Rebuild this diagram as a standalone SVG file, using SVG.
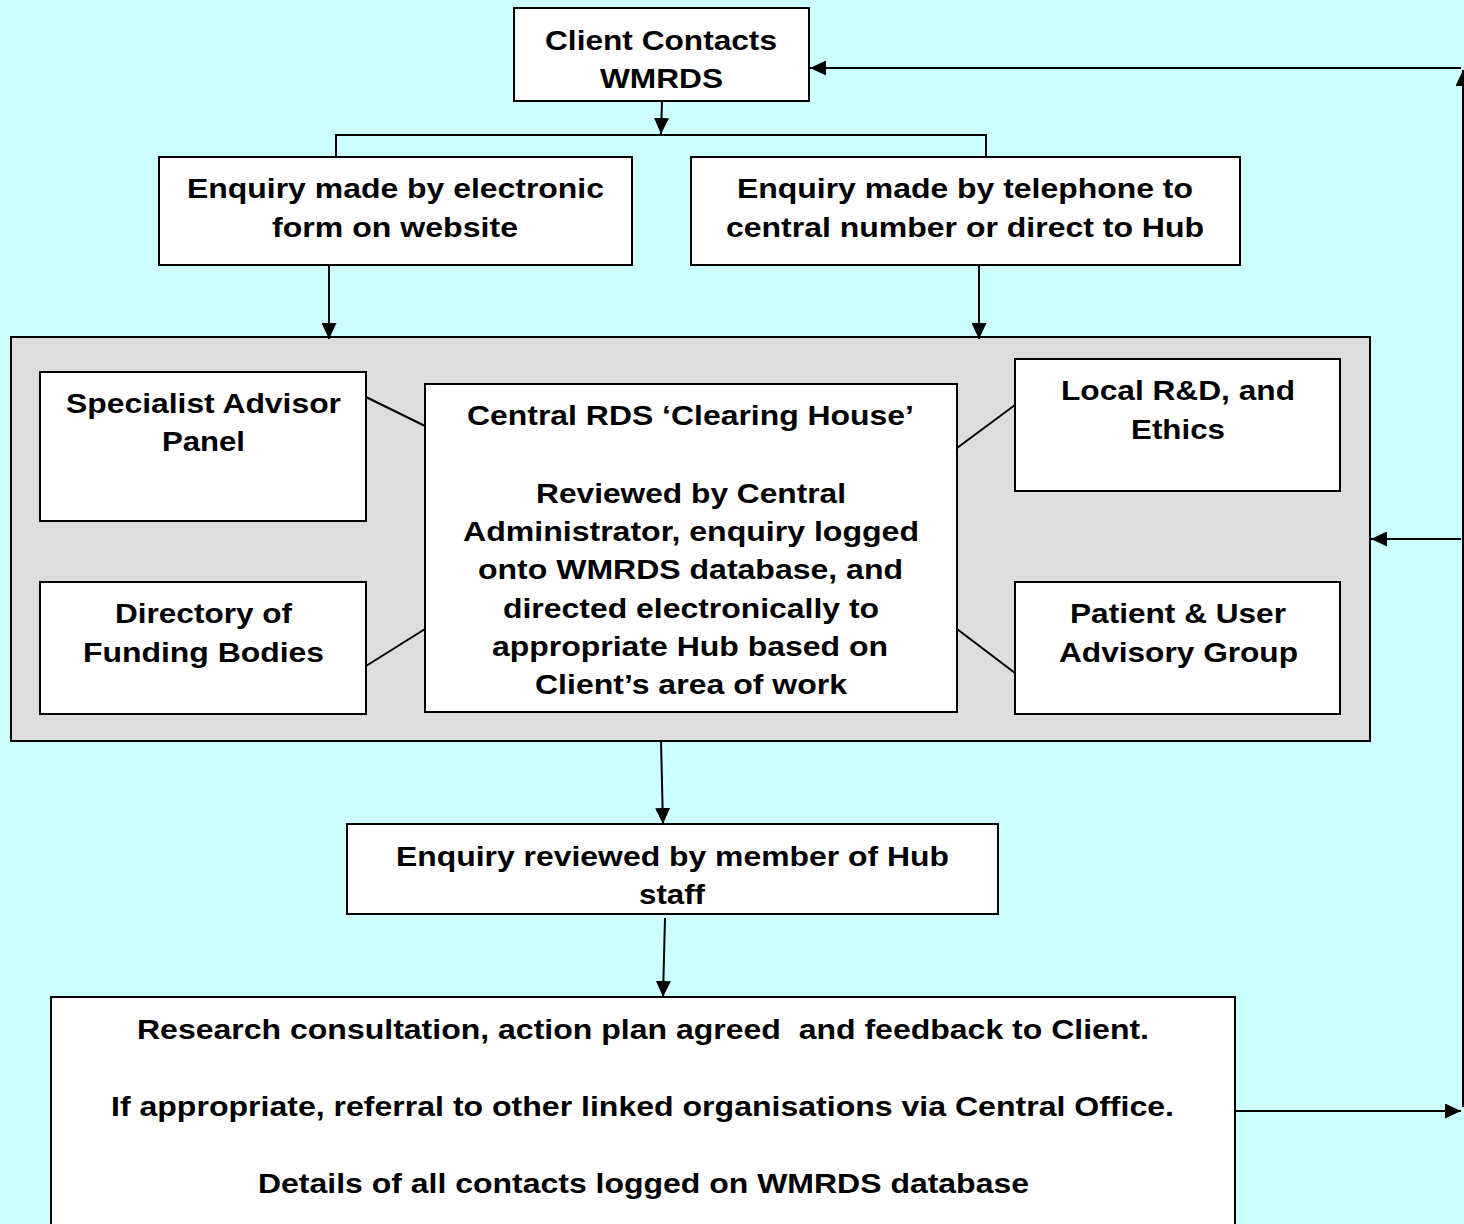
<svg xmlns="http://www.w3.org/2000/svg" width="1464" height="1224" viewBox="0 0 1464 1224">
<defs>
<style>
.bg{fill:#CCFFFF}
.box{fill:#FFFFFF;stroke:#000;stroke-width:2}
.panel{fill:#DDDDDD;stroke:#000;stroke-width:2}
.ln{fill:none;stroke:#000;stroke-width:2}
.arr{fill:none;stroke:#000;stroke-width:2;marker-end:url(#ah)}
text{font-family:"Liberation Sans",Arial,sans-serif;font-weight:bold;font-size:28px;fill:#000}
</style>
<marker id="ah" viewBox="0 0 16 15" refX="16" refY="7.5" markerWidth="16" markerHeight="15" markerUnits="userSpaceOnUse" orient="auto">
<path d="M0,0 L16,7.5 L0,15 Z" fill="#000"/>
</marker>
</defs>
<rect class="bg" x="0" y="0" width="1464" height="1224"/>

<g id="clearing-panel">
<rect class="panel" x="11" y="337" width="1359" height="404"/>
</g>

<g id="connectors">
<line class="arr" x1="662" y1="101" x2="661" y2="134"/>
<polyline class="ln" points="336,157 336,135 986,135 986,157"/>
<line class="arr" x1="329" y1="265" x2="329" y2="339"/>
<line class="arr" x1="979" y1="265" x2="979" y2="339"/>
<line class="ln" x1="366" y1="397" x2="425" y2="426"/>
<line class="ln" x1="366" y1="666" x2="425" y2="629"/>
<line class="ln" x1="957" y1="448" x2="1015" y2="405"/>
<line class="ln" x1="957" y1="629" x2="1015" y2="673"/>
<line class="arr" x1="661" y1="741" x2="663" y2="824"/>
<line class="arr" x1="665" y1="918" x2="663" y2="997"/>
<line class="arr" x1="1235" y1="1111" x2="1461" y2="1111"/>
<line class="arr" x1="1463" y1="1107" x2="1463" y2="70"/>
<line class="arr" x1="1461" y1="68" x2="810" y2="68"/>
<line class="arr" x1="1461" y1="539" x2="1371" y2="539"/>
</g>

<g id="client">
<rect class="box" x="514" y="8" width="295" height="93"/>
<text x="545" y="50" textLength="232" lengthAdjust="spacingAndGlyphs">Client Contacts</text>
<text x="600" y="88" textLength="123" lengthAdjust="spacingAndGlyphs">WMRDS</text>
</g>

<g id="enquiry-web">
<rect class="box" x="159" y="157" width="473" height="108"/>
<text x="187" y="198" textLength="417" lengthAdjust="spacingAndGlyphs">Enquiry made by electronic</text>
<text x="272" y="237" textLength="246" lengthAdjust="spacingAndGlyphs">form on website</text>
</g>

<g id="enquiry-phone">
<rect class="box" x="691" y="157" width="549" height="108"/>
<text x="737" y="198" textLength="456" lengthAdjust="spacingAndGlyphs">Enquiry made by telephone to</text>
<text x="726" y="237" textLength="478" lengthAdjust="spacingAndGlyphs">central number or direct to Hub</text>
</g>

<g id="specialist">
<rect class="box" x="40" y="372" width="326" height="149"/>
<text x="66" y="413" textLength="275" lengthAdjust="spacingAndGlyphs">Specialist Advisor</text>
<text x="162" y="451" textLength="83" lengthAdjust="spacingAndGlyphs">Panel</text>
</g>

<g id="directory">
<rect class="box" x="40" y="582" width="326" height="132"/>
<text x="115" y="623" textLength="177" lengthAdjust="spacingAndGlyphs">Directory of</text>
<text x="83" y="662" textLength="241" lengthAdjust="spacingAndGlyphs">Funding Bodies</text>
</g>

<g id="central">
<rect class="box" x="425" y="384" width="532" height="328"/>
<text x="467" y="425" textLength="447" lengthAdjust="spacingAndGlyphs">Central RDS ‘Clearing House’</text>
<text x="536" y="503" textLength="310" lengthAdjust="spacingAndGlyphs">Reviewed by Central</text>
<text x="463" y="541" textLength="456" lengthAdjust="spacingAndGlyphs">Administrator, enquiry logged</text>
<text x="478" y="579" textLength="425" lengthAdjust="spacingAndGlyphs">onto WMRDS database, and</text>
<text x="503" y="618" textLength="376" lengthAdjust="spacingAndGlyphs">directed electronically to</text>
<text x="492" y="656" textLength="396" lengthAdjust="spacingAndGlyphs">appropriate Hub based on</text>
<text x="535" y="694" textLength="312" lengthAdjust="spacingAndGlyphs">Client’s area of work</text>
</g>

<g id="local-rd">
<rect class="box" x="1015" y="359" width="325" height="132"/>
<text x="1061" y="400" textLength="234" lengthAdjust="spacingAndGlyphs">Local R&amp;D, and</text>
<text x="1131" y="439" textLength="94" lengthAdjust="spacingAndGlyphs">Ethics</text>
</g>

<g id="patient">
<rect class="box" x="1015" y="582" width="325" height="132"/>
<text x="1070" y="623" textLength="216" lengthAdjust="spacingAndGlyphs">Patient &amp; User</text>
<text x="1059" y="662" textLength="239" lengthAdjust="spacingAndGlyphs">Advisory Group</text>
</g>

<g id="hub-review">
<rect class="box" x="347" y="824" width="651" height="90"/>
<text x="396" y="866" textLength="553" lengthAdjust="spacingAndGlyphs">Enquiry reviewed by member of Hub</text>
<text x="639" y="904" textLength="66" lengthAdjust="spacingAndGlyphs">staff</text>
</g>

<g id="consultation">
<rect class="box" x="51" y="997" width="1184" height="240"/>
<text x="137" y="1039" textLength="1012" lengthAdjust="spacingAndGlyphs" xml:space="preserve">Research consultation, action plan agreed  and feedback to Client.</text>
<text x="111" y="1116" textLength="1063" lengthAdjust="spacingAndGlyphs">If appropriate, referral to other linked organisations via Central Office.</text>
<text x="258" y="1193" textLength="771" lengthAdjust="spacingAndGlyphs">Details of all contacts logged on WMRDS database</text>
</g>
</svg>
